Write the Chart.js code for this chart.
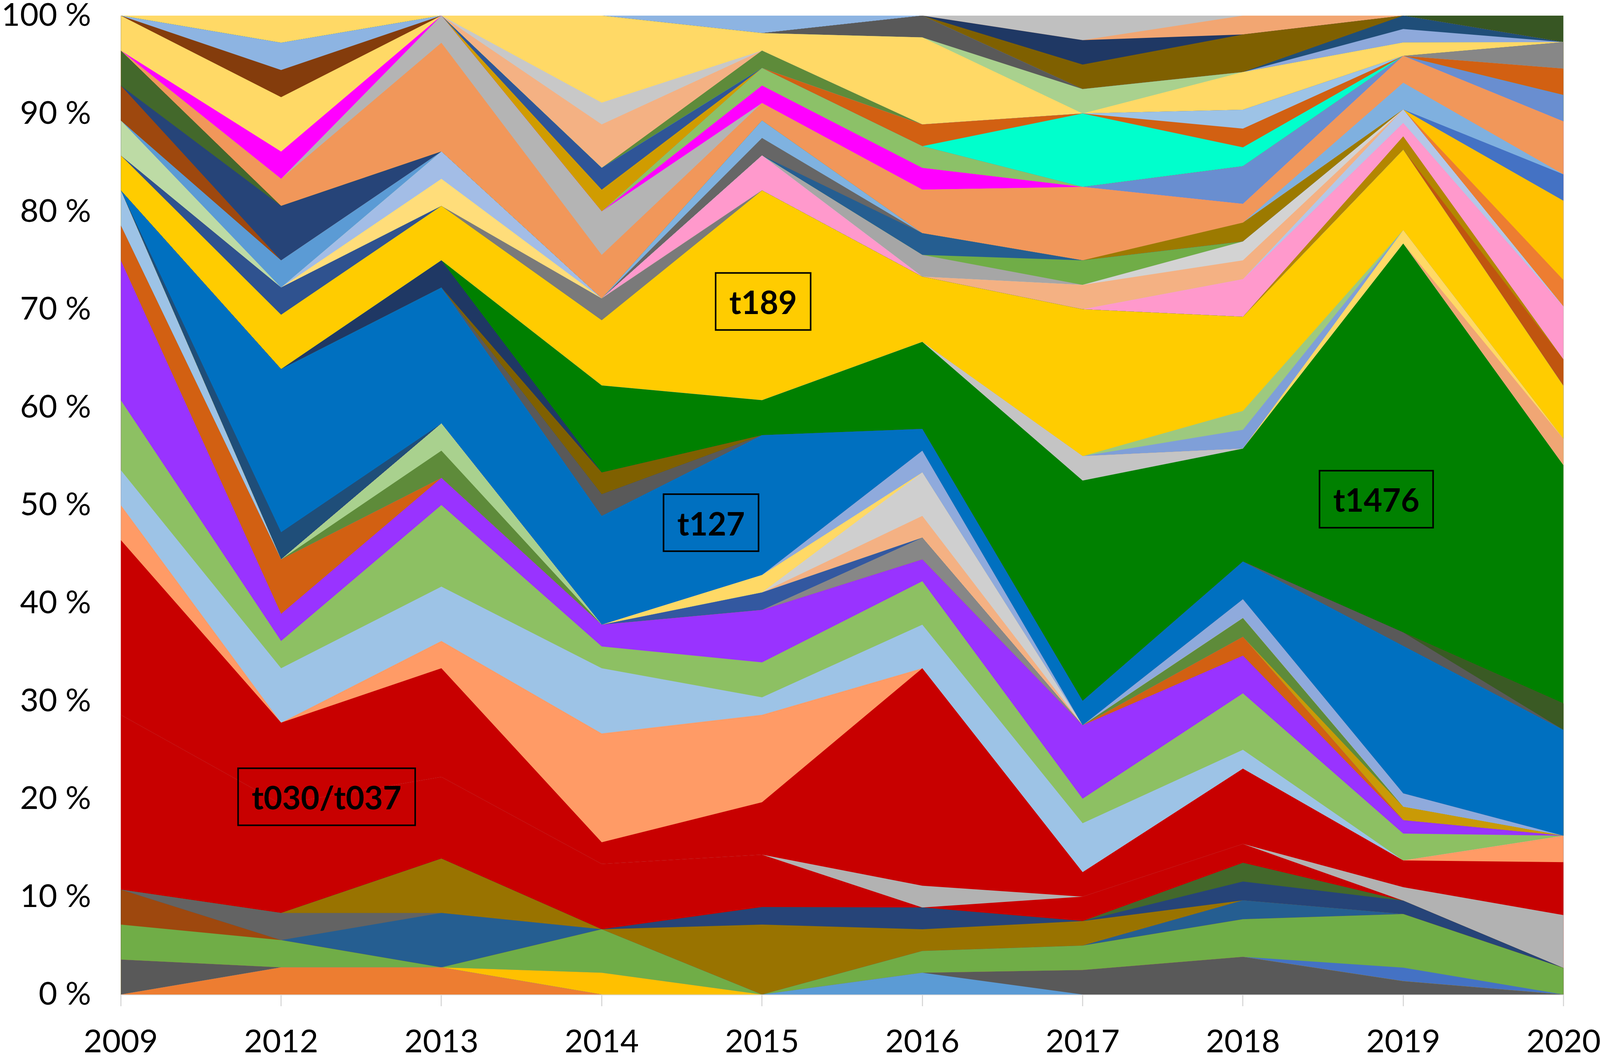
<!DOCTYPE html>
<html>
<head>
<meta charset="utf-8">
<title>spa-types 2009-2020</title>
<script src="https://cdn.jsdelivr.net/npm/chart.js@4/dist/chart.umd.min.js"></script>
<style>
  html, body { margin: 0; padding: 0; background: #fff; overflow: hidden; }
  canvas { display: block; }
</style>
</head>
<body>
<canvas id="spaChart"></canvas>
<script>
const years = ["2009", "2012", "2013", "2014", "2015", "2016", "2017", "2018", "2019", "2020"];

// shares per year in units of one isolate
// (columns hold 28, 36, 36, 45, 56, 45, 40, 52, 73, 37 units); bottom layer first
const orangeBase    = [0, 1, 1, 0, 0, 0, 0, 0, 0, 0];
const blueBase      = [0, 0, 0, 0, 0, 1, 0, 0, 0, 0];
const darkGrayBase  = [1, 0, 0, 0, 0, 0, 1, 2, 1, 0];
const amberBase     = [0, 0, 0, 1, 0, 0, 0, 0, 0, 0];
const royalBase     = [0, 0, 0, 0, 0, 0, 0, 0, 1, 0];
const greenBase     = [1, 1, 0, 2, 0, 1, 1, 2, 4, 1];
const rustBase      = [1, 0, 0, 0, 0, 0, 0, 0, 0, 0];
const steelBase     = [0, 0, 2, 0, 0, 0, 0, 1, 0, 0];
const grayBase      = [0, 1, 0, 0, 0, 0, 0, 0, 0, 0];
const oliveBase     = [0, 0, 2, 0, 4, 1, 1, 0, 0, 0];
const navyBase      = [0, 0, 0, 0, 1, 1, 0, 1, 1, 0];
const forestBase    = [0, 0, 0, 0, 0, 0, 0, 1, 0, 0];
const redLower      = [5, 4, 3, 3, 3, 0, 1, 1, 0, 0];
const silverLow     = [0, 0, 0, 0, 0, 1, 0, 0, 1, 2];
const redUpper      = [5, 3, 4, 1, 3, 10, 1, 4, 2, 2];
const salmonLow     = [1, 0, 1, 5, 5, 0, 0, 0, 0, 1];
const skyLow        = [1, 2, 2, 3, 1, 2, 2, 1, 0, 0];
const leafLow       = [2, 1, 3, 1, 2, 2, 1, 3, 2, 0];
const purpleLow     = [4, 1, 1, 1, 3, 1, 3, 2, 1, 0];
const pumpkinMid    = [1, 2, 0, 0, 0, 0, 0, 1, 0, 0];
const grayMid       = [0, 0, 0, 0, 0, 1, 0, 0, 0, 0];
const cobaltMid     = [0, 0, 0, 0, 1, 0, 0, 0, 0, 0];
const skyMid        = [1, 0, 0, 0, 0, 0, 0, 0, 0, 0];
const mustardMid    = [0, 0, 0, 0, 0, 0, 0, 0, 1, 0];
const mossMid       = [0, 0, 1, 0, 0, 0, 0, 1, 0, 0];
const mintMid       = [0, 0, 1, 0, 0, 0, 0, 0, 0, 0];
const peachMid      = [0, 0, 0, 0, 0, 1, 0, 0, 0, 0];
const silverMid     = [0, 0, 0, 0, 0, 2, 0, 0, 0, 0];
const butterMid     = [0, 0, 0, 0, 1, 0, 0, 0, 0, 0];
const lavenderMid   = [0, 0, 0, 0, 0, 1, 0, 1, 1, 0];
const inkMid        = [0, 1, 0, 0, 0, 0, 0, 0, 0, 0];
const t127          = [0, 6, 5, 5, 8, 1, 1, 2, 11, 4];
const charcoalMid   = [0, 0, 0, 1, 0, 0, 0, 0, 1, 0];
const pineMid       = [0, 0, 0, 0, 0, 0, 0, 0, 0, 1];
const bronzeMid     = [0, 0, 0, 1, 0, 0, 0, 0, 0, 0];
const midnightMid   = [0, 0, 1, 0, 0, 0, 0, 0, 0, 0];
const t1476         = [0, 0, 0, 4, 2, 4, 9, 6, 29, 9];
const silverHigh    = [0, 0, 0, 0, 0, 0, 1, 0, 0, 0];
const peachHigh     = [0, 0, 0, 0, 0, 0, 0, 0, 0, 1];
const butterHigh    = [0, 0, 0, 0, 0, 0, 0, 0, 1, 0];
const lavenderHigh  = [0, 0, 0, 0, 0, 0, 0, 1, 0, 0];
const mintHigh      = [0, 0, 0, 0, 0, 0, 0, 1, 0, 0];
const t189          = [1, 2, 2, 3, 12, 3, 6, 5, 6, 2];
const denimUp       = [0, 1, 0, 0, 0, 0, 0, 0, 0, 0];
const slateUp       = [0, 0, 0, 1, 0, 0, 0, 0, 0, 0];
const butterUp      = [0, 0, 1, 0, 0, 0, 0, 0, 0, 0];
const lavenderUp    = [0, 0, 1, 0, 0, 0, 0, 0, 0, 0];
const mintUp        = [1, 0, 0, 0, 0, 0, 0, 0, 0, 0];
const cornflowerUp  = [0, 1, 0, 0, 0, 0, 0, 0, 0, 0];
const rustUp        = [1, 0, 0, 0, 0, 0, 0, 0, 0, 0];
const navyUp        = [0, 2, 0, 0, 0, 0, 0, 0, 0, 0];
const forestUp      = [1, 0, 0, 0, 0, 0, 0, 0, 0, 0];
const brownUp       = [0, 0, 0, 0, 0, 0, 0, 0, 0, 1];
const mustardUp     = [0, 0, 0, 0, 0, 0, 0, 0, 1, 0];
const pinkUp        = [0, 0, 0, 0, 2, 0, 0, 2, 1, 2];
const iceUp         = [0, 0, 0, 0, 0, 0, 0, 0, 1, 0];
const peachUp       = [0, 0, 0, 0, 0, 0, 1, 1, 0, 0];
const silverUp      = [0, 0, 0, 0, 0, 0, 0, 1, 0, 0];
const grayUp        = [0, 0, 0, 0, 0, 1, 0, 0, 0, 0];
const greenUp       = [0, 0, 0, 0, 0, 0, 1, 0, 0, 0];
const steelUp       = [0, 0, 0, 0, 0, 1, 0, 0, 0, 0];
const graphiteUp    = [0, 0, 0, 0, 1, 0, 0, 0, 0, 0];
const skyUp         = [0, 0, 0, 0, 1, 0, 0, 0, 0, 0];
const oliveUp       = [0, 0, 0, 0, 0, 0, 0, 1, 0, 0];
const orangeUp      = [0, 0, 0, 0, 0, 0, 0, 0, 0, 1];
const amberUp       = [0, 0, 0, 0, 0, 0, 0, 0, 0, 3];
const royalUp       = [0, 0, 0, 0, 0, 0, 0, 0, 0, 1];
const skyUp2        = [0, 0, 0, 0, 0, 0, 0, 0, 2, 0];
const salmonHigh    = [0, 1, 4, 2, 1, 2, 3, 1, 2, 2];
const silverTop     = [0, 0, 1, 2, 0, 0, 0, 0, 0, 0];
const magentaTop    = [0, 1, 0, 0, 1, 1, 0, 0, 0, 0];
const butterTop     = [1, 2, 0, 0, 0, 0, 0, 0, 0, 0];
const chestnutTop   = [0, 1, 0, 0, 0, 0, 0, 0, 0, 0];
const skyTop        = [0, 1, 0, 0, 0, 0, 0, 0, 0, 0];
const leafTop       = [0, 0, 0, 0, 1, 1, 0, 0, 0, 0];
const lavenderTop   = [0, 0, 0, 0, 0, 0, 0, 2, 0, 1];
const mustardTop    = [0, 0, 0, 1, 0, 0, 0, 0, 0, 0];
const cobaltTop     = [0, 0, 0, 1, 0, 0, 0, 0, 0, 0];
const aquaTop       = [0, 0, 0, 0, 0, 0, 3, 1, 0, 0];
const pumpkinTop    = [0, 0, 0, 0, 0, 1, 0, 1, 0, 1];
const skyTop2       = [0, 0, 0, 0, 0, 0, 0, 1, 0, 0];
const grayTop       = [0, 0, 0, 0, 0, 0, 0, 0, 0, 1];
const mossTop       = [0, 0, 0, 0, 1, 0, 0, 0, 0, 0];
const peachTop      = [0, 0, 0, 2, 0, 0, 0, 0, 0, 0];
const silverTop2    = [0, 0, 0, 1, 0, 0, 0, 0, 0, 0];
const butterTop2    = [0, 1, 0, 4, 1, 4, 0, 2, 1, 0];
const mintTop       = [0, 0, 0, 0, 0, 0, 1, 0, 0, 0];
const charcoalTop   = [0, 0, 0, 0, 0, 1, 0, 0, 0, 0];
const lavenderTop2  = [0, 0, 0, 0, 0, 0, 0, 0, 1, 0];
const inkTop        = [0, 0, 0, 0, 0, 0, 0, 0, 1, 0];
const bronzeTop     = [0, 0, 0, 0, 0, 0, 1, 2, 0, 0];
const midnightTop   = [0, 0, 0, 0, 0, 0, 1, 0, 0, 0];
const apricotTop    = [0, 0, 0, 0, 0, 0, 0, 1, 0, 0];
const silverTop3    = [0, 0, 0, 0, 0, 0, 1, 0, 0, 0];
const skyTop3       = [0, 0, 0, 0, 1, 0, 0, 0, 0, 0];
const pineTop       = [0, 0, 0, 0, 0, 0, 0, 0, 0, 1];

// stacking order with fill colours
const layers = [
  ["orangeBase", orangeBase, "#ED7D31"],
  ["blueBase", blueBase, "#5B9BD5"],
  ["darkGrayBase", darkGrayBase, "#595959"],
  ["amberBase", amberBase, "#FFC000"],
  ["royalBase", royalBase, "#4472C4"],
  ["greenBase", greenBase, "#70AD47"],
  ["rustBase", rustBase, "#9E480E"],
  ["steelBase", steelBase, "#255E91"],
  ["grayBase", grayBase, "#636363"],
  ["oliveBase", oliveBase, "#997300"],
  ["navyBase", navyBase, "#264478"],
  ["forestBase", forestBase, "#43682B"],
  ["t030/t037", redLower, "#C80000"],
  ["silverLow", silverLow, "#B2B2B2"],
  ["t030/t037", redUpper, "#C80000"],
  ["salmonLow", salmonLow, "#FF9B66"],
  ["skyLow", skyLow, "#9DC3E6"],
  ["leafLow", leafLow, "#8DC063"],
  ["purpleLow", purpleLow, "#9933FF"],
  ["pumpkinMid", pumpkinMid, "#D26012"],
  ["grayMid", grayMid, "#878787"],
  ["cobaltMid", cobaltMid, "#3358A0"],
  ["skyMid", skyMid, "#9DC3E6"],
  ["mustardMid", mustardMid, "#C99A06"],
  ["mossMid", mossMid, "#5E8B3A"],
  ["mintMid", mintMid, "#A9D18E"],
  ["peachMid", peachMid, "#F4B183"],
  ["silverMid", silverMid, "#CFCFCF"],
  ["butterMid", butterMid, "#FFD966"],
  ["lavenderMid", lavenderMid, "#8FAADC"],
  ["inkMid", inkMid, "#1F4E79"],
  ["t127", t127, "#0070C0"],
  ["charcoalMid", charcoalMid, "#595959"],
  ["pineMid", pineMid, "#3A5A24"],
  ["bronzeMid", bronzeMid, "#7F6000"],
  ["midnightMid", midnightMid, "#1F3864"],
  ["t1476", t1476, "#008000"],
  ["silverHigh", silverHigh, "#C4C4C4"],
  ["peachHigh", peachHigh, "#F0A674"],
  ["butterHigh", butterHigh, "#FFD966"],
  ["lavenderHigh", lavenderHigh, "#7F9FD8"],
  ["mintHigh", mintHigh, "#9DC97F"],
  ["t189", t189, "#FFCC00"],
  ["denimUp", denimUp, "#2F528F"],
  ["slateUp", slateUp, "#7A7A7A"],
  ["butterUp", butterUp, "#FFDD7A"],
  ["lavenderUp", lavenderUp, "#A3BDE6"],
  ["mintUp", mintUp, "#BDDBA5"],
  ["cornflowerUp", cornflowerUp, "#5B9BD5"],
  ["rustUp", rustUp, "#9E480E"],
  ["navyUp", navyUp, "#264478"],
  ["forestUp", forestUp, "#43682B"],
  ["brownUp", brownUp, "#C0550F"],
  ["mustardUp", mustardUp, "#B38600"],
  ["pinkUp", pinkUp, "#FF99CC"],
  ["iceUp", iceUp, "#B4C7E7"],
  ["peachUp", peachUp, "#F4B183"],
  ["silverUp", silverUp, "#D3D3D3"],
  ["grayUp", grayUp, "#A6A6A6"],
  ["greenUp", greenUp, "#70AD47"],
  ["steelUp", steelUp, "#255E91"],
  ["graphiteUp", graphiteUp, "#666666"],
  ["skyUp", skyUp, "#7FB2E0"],
  ["oliveUp", oliveUp, "#9C7A00"],
  ["orangeUp", orangeUp, "#ED7D31"],
  ["amberUp", amberUp, "#FFC000"],
  ["royalUp", royalUp, "#4472C4"],
  ["skyUp2", skyUp2, "#7FB0DF"],
  ["salmonHigh", salmonHigh, "#F1975A"],
  ["silverTop", silverTop, "#B4B4B4"],
  ["magentaTop", magentaTop, "#FF00FF"],
  ["butterTop", butterTop, "#FFD966"],
  ["chestnutTop", chestnutTop, "#843C0C"],
  ["skyTop", skyTop, "#8DB4E2"],
  ["leafTop", leafTop, "#8CC168"],
  ["lavenderTop", lavenderTop, "#698ED0"],
  ["mustardTop", mustardTop, "#D09C00"],
  ["cobaltTop", cobaltTop, "#2F5597"],
  ["aquaTop", aquaTop, "#00FFCC"],
  ["pumpkinTop", pumpkinTop, "#D26012"],
  ["skyTop2", skyTop2, "#9DC3E6"],
  ["grayTop", grayTop, "#878787"],
  ["mossTop", mossTop, "#5E8B3A"],
  ["peachTop", peachTop, "#F4B183"],
  ["silverTop2", silverTop2, "#C8C8C8"],
  ["butterTop2", butterTop2, "#FFD966"],
  ["mintTop", mintTop, "#A9D18E"],
  ["charcoalTop", charcoalTop, "#595959"],
  ["lavenderTop2", lavenderTop2, "#8EA9DB"],
  ["inkTop", inkTop, "#1F4E79"],
  ["bronzeTop", bronzeTop, "#7F6000"],
  ["midnightTop", midnightTop, "#1F3864"],
  ["apricotTop", apricotTop, "#F2A672"],
  ["silverTop3", silverTop3, "#C0C0C0"],
  ["skyTop3", skyTop3, "#8DB4E2"],
  ["pineTop", pineTop, "#375623"],
];

// boxed spa-type names: category position (fractional index) and percent
const boxNotes = [
  { text: "t030/t037", at: 1.284, value: 20.2 },
  { text: "t127", at: 3.682, value: 48.2 },
  { text: "t189", at: 4.007, value: 70.8 },
  { text: "t1476", at: 7.832, value: 50.6 },
];

// the layout was measured on a 4212 x 2706 picture; scale it to the real window
const W = window.innerWidth || 4212;
const H = window.innerHeight || 2706;
const sx = W / 4212;
const sy = H / 2706;

const canvas = document.getElementById("spaChart");
canvas.width = W;
canvas.height = H;
canvas.style.width = W + "px";
canvas.style.height = H + "px";

const tickFont = { family: "Lato", size: Math.round(82 * sy) };

// 100 % stacking: each column is scaled to its own total
const totals = years.map((_, i) => layers.reduce((sum, l) => sum + l[1][i], 0));

const datasets = layers.map(([label, values, color]) => ({
  label,
  data: values.map((v, i) => (v / totals[i]) * 100),
  backgroundColor: color,
  borderColor: "rgba(0,0,0,0)",
  borderWidth: 0,
  pointRadius: 0,
  pointHoverRadius: 0,
  tension: 0,
  // every layer fills down to 0; lower layers are painted over the upper ones
  fill: "origin",
}));

const boxLabels = {
  id: "boxLabels",
  afterDatasetsDraw(chart) {
    const { ctx, scales } = chart;
    ctx.save();
    ctx.font = "bold " + Math.round(82 * sy) + "px Lato";
    ctx.textAlign = "center";
    ctx.textBaseline = "middle";
    boxNotes.forEach((note) => {
      const cx = scales.x.getPixelForValue(note.at);
      const cy = scales.y.getPixelForValue(note.value);
      const w = ctx.measureText(note.text).width + 72 * sx;
      const h = 146 * sy;
      ctx.lineWidth = 4 * sy;
      ctx.strokeStyle = "#000";
      ctx.strokeRect(cx - w / 2, cy - h / 2, w, h);
      ctx.fillStyle = "#000";
      ctx.fillText(note.text, cx, cy + 6 * sy);
    });
    ctx.restore();
  },
};

new Chart(canvas.getContext("2d"), {
  type: "line",
  data: { labels: years, datasets },
  options: {
    responsive: false,
    devicePixelRatio: 1,
    animation: false,
    events: [],
    layout: { padding: { top: 40 * sy, right: 96 * sx, left: 0, bottom: 0 } },
    plugins: {
      legend: { display: false },
      tooltip: { enabled: false },
    },
    scales: {
      x: {
        offset: false,
        grid: {
          display: true,
          drawOnChartArea: false,
          drawTicks: true,
          tickLength: 30 * sy,
          color: "#D9D9D9",
          lineWidth: 3,
        },
        border: { display: true, color: "#D9D9D9", width: 3 },
        ticks: { font: tickFont, color: "#000", padding: 42 * sy, maxRotation: 0, autoSkip: false },
        afterFit(scale) {
          scale.height = 160 * sy;
          // keep the plot edges where the picture has them
          scale.paddingLeft = 0;
          scale.paddingRight = 0;
        },
      },
      y: {
        stacked: true,
        min: 0,
        max: 100,
        grid: { display: false },
        border: { display: false },
        ticks: {
          stepSize: 10,
          font: tickFont,
          color: "#000",
          padding: 70 * sx,
          callback: (v) => v + " %",
        },
        afterFit(scale) {
          scale.width = 318 * sx;
          scale.paddingTop = 0;
          scale.paddingBottom = 0;
        },
      },
    },
  },
  plugins: [boxLabels],
});
</script>
</body>
</html>
